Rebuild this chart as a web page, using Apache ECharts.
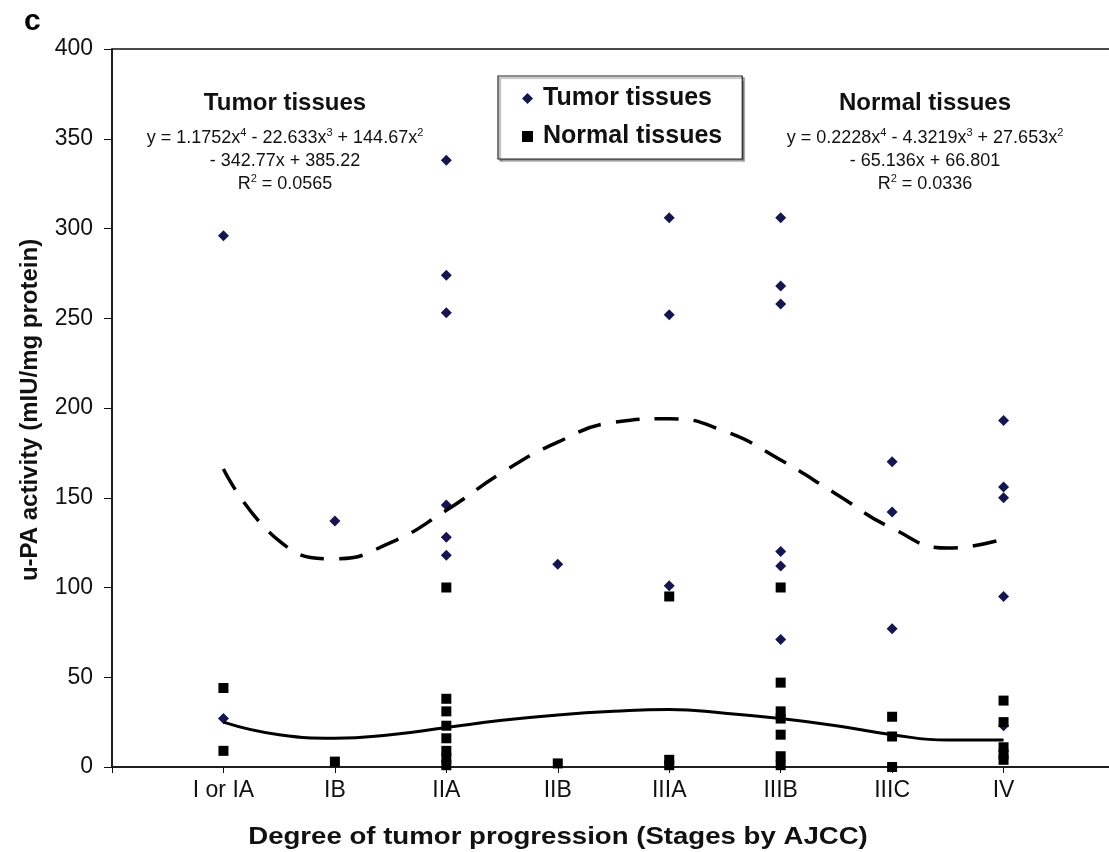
<!DOCTYPE html>
<html>
<head>
<meta charset="utf-8">
<script src="https://cdn.jsdelivr.net/npm/echarts@6/dist/echarts.min.js"></script>
<style>
  html, body { margin: 0; padding: 0; background: #fff; }
  #chart { width: 1109px; height: 852px; }
</style>
</head>
<body>
<div id="chart"></div>
<script>
// stage names on the x axis (positions 1..8)
const stages = ['I or IA', 'IB', 'IIA', 'IIB', 'IIIA', 'IIIB', 'IIIC', 'IV'];

// u-PA activity, one list per stage
const tumorByStage = [
    [296, 27],
    [137],
    [338, 274, 253, 146, 128, 118],
    [113],
    [306, 252, 101],
    [306, 268, 258, 120, 112, 71],
    [170, 142, 77],
    [193, 156, 150, 95, 23]
];
const normalByStage = [
    [44, 9],
    [3],
    [100, 38, 31, 23, 16, 9, 5, 1],
    [2],
    [95, 4, 1],
    [100, 47, 31, 27, 18, 6, 1],
    [28, 17, 0],
    [37, 25, 11, 7, 4]
];

// trend curves at half-stage steps
const trendX = [1, 1.5, 2, 2.5, 3, 3.5, 4, 4.5, 5, 5.5, 6, 6.5, 7, 7.5, 8];
const tumorTrend = [166, 126, 116, 125, 143, 164, 181, 192, 194, 187, 171, 152, 133, 122, 127];
const normalTrend = [25, 18, 16, 18, 22, 26, 29, 31, 32, 30, 27, 23, 18, 15, 15];

const yTicks = { min: 0, max: 400, step: 50 };

const toPoints = (groups) => {
    const pts = [];
    groups.forEach((vals, i) => vals.forEach(v => pts.push([i + 1, v])));
    return pts;
};

const font = 'Liberation Sans, Arial, sans-serif';
const supRich = { s: { fontSize: 11, fontFamily: font, verticalAlign: 'top', lineHeight: 14 } };
const chart = echarts.init(document.getElementById('chart'));

chart.setOption({
    backgroundColor: '#fff',
    animation: false,
    grid: {
        left: 112, top: 49, right: -6, bottom: 85,
        outerBoundsMode: 'none',
        show: true, borderColor: '#111', borderWidth: 1.5
    },
    legend: {
        orient: 'vertical',
        left: 498, top: 76,
        padding: [10, 20, 10, 24],
        itemGap: 13,
        itemWidth: 11, itemHeight: 11,
        backgroundColor: '#fff',
        borderColor: '#222', borderWidth: 1.2,
        shadowColor: 'rgba(0,0,0,0.45)', shadowOffsetX: 2, shadowOffsetY: 2, shadowBlur: 1,
        textStyle: { fontFamily: font, fontWeight: 'bold', fontSize: 25, color: '#111', padding: [0, 0, 0, 5] },
        data: [
            { name: 'Tumor tissues', icon: 'diamond' },
            { name: 'Normal tissues', icon: 'rect' }
        ]
    },
    xAxis: {
        type: 'value', min: 0, max: 9, interval: 1,
        axisLine: { lineStyle: { color: '#111', width: 1.5 } },
        axisTick: { show: true, length: 6, lineStyle: { color: '#111' } },
        splitLine: { show: false },
        axisLabel: {
            margin: 12,
            fontFamily: font, fontSize: 23, color: '#111',
            formatter: v => stages[v - 1] || ''
        }
    },
    yAxis: {
        type: 'value', min: yTicks.min, max: yTicks.max, interval: yTicks.step,
        axisLine: { show: true, lineStyle: { color: '#111', width: 1.5 } },
        axisTick: { show: true, length: 8, lineStyle: { color: '#111' } },
        splitLine: { show: false },
        axisLabel: { margin: 19, fontFamily: font, fontSize: 23, color: '#111' }
    },
    series: [
        {
            name: 'Tumor tissues', type: 'scatter', symbol: 'diamond', symbolSize: 11,
            itemStyle: { color: '#16164f', opacity: 1 },
            data: toPoints(tumorByStage), z: 3
        },
        {
            name: 'Normal tissues', type: 'scatter', symbol: 'rect', symbolSize: 10,
            itemStyle: { color: '#000', opacity: 1 },
            data: toPoints(normalByStage), z: 3
        },
        {
            name: 'tumor trend', type: 'line', smooth: 0.5, symbol: 'none',
            lineStyle: { color: '#000', width: 3.5, type: [24, 15] },
            data: trendX.map((x, i) => [x, tumorTrend[i]]), z: 4
        },
        {
            name: 'normal trend', type: 'line', smooth: 0.5, symbol: 'none',
            lineStyle: { color: '#000', width: 3 },
            data: trendX.map((x, i) => [x, normalTrend[i]]), z: 4
        }
    ],
    graphic: [
        {
            type: 'text', x: 24, y: 7,
            style: { text: 'c', font: 'bold 30px ' + font, fill: '#000' }
        },
        {
            type: 'text', x: 30, y: 410, rotation: Math.PI / 2,
            style: {
                text: 'u-PA activity (mIU/mg protein)', font: 'bold 24px ' + font,
                fill: '#111', align: 'center', verticalAlign: 'middle'
            }
        },
        {
            type: 'text', x: 558, y: 837, scaleX: 1.15,
            style: {
                text: 'Degree of tumor progression (Stages by AJCC)', font: 'bold 24px ' + font,
                fill: '#111', align: 'center', verticalAlign: 'middle'
            }
        },
        // Tumor tissues trend annotation
        {
            type: 'text', x: 285, y: 103,
            style: { text: 'Tumor tissues', font: 'bold 24px ' + font, fill: '#111', align: 'center', verticalAlign: 'middle' }
        },
        {
            type: 'text', x: 285, y: 127,
            style: {
                text: 'y = 1.1752x{s|4} - 22.633x{s|3} + 144.67x{s|2}\n- 342.77x + 385.22\nR{s|2} = 0.0565',
                fontFamily: font, fontSize: 18, lineHeight: 23, fill: '#111',
                align: 'center', verticalAlign: 'top', rich: supRich
            }
        },
        // Normal tissues trend annotation
        {
            type: 'text', x: 925, y: 103,
            style: { text: 'Normal tissues', font: 'bold 24px ' + font, fill: '#111', align: 'center', verticalAlign: 'middle' }
        },
        {
            type: 'text', x: 925, y: 127,
            style: {
                text: 'y = 0.2228x{s|4} - 4.3219x{s|3} + 27.653x{s|2}\n- 65.136x + 66.801\nR{s|2} = 0.0336',
                fontFamily: font, fontSize: 18, lineHeight: 23, fill: '#111',
                align: 'center', verticalAlign: 'top', rich: supRich
            }
        }
    ]
});
</script>
</body>
</html>
